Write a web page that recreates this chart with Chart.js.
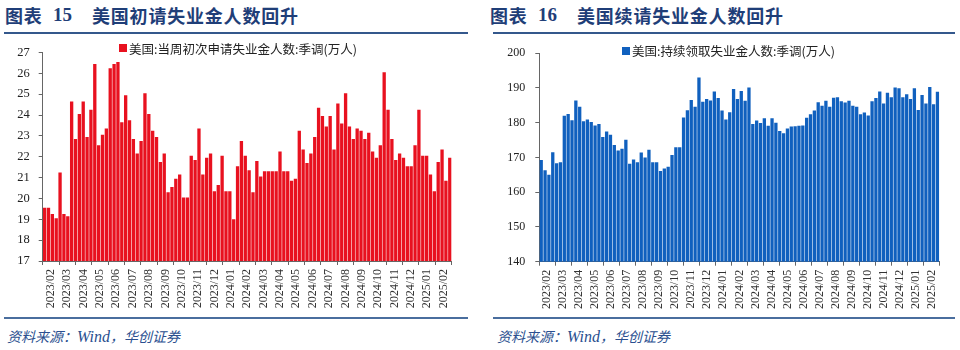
<!DOCTYPE html>
<html><head><meta charset="utf-8">
<script src="https://cdn.jsdelivr.net/npm/chart.js@4.4.1/dist/chart.umd.min.js"></script>
<style>
html,body{margin:0;padding:0;background:#fff;width:960px;height:350px;overflow:hidden;position:relative;}
.t{position:absolute;top:4px;height:22px;line-height:22px;color:#1F3E78;font-weight:700;font-size:18px;white-space:nowrap;font-family:"Noto Sans CJK SC",sans-serif;letter-spacing:0.8px}
.num{font-family:"Liberation Serif",serif;font-size:19px;letter-spacing:0}
.rule{position:absolute;height:2px;background:#34588C;}
.rule2{position:absolute;height:1.5px;background:#4A6E9E;}
.src{position:absolute;top:326px;font-size:14px;line-height:20px;color:#2A4F8F;font-style:italic;font-family:"Noto Sans CJK SC",sans-serif;white-space:nowrap}
.src .w{font-family:"Liberation Serif",serif;font-size:16px}
.lg{position:absolute;height:14px;display:flex;align-items:center;font-size:12.5px;color:#222;white-space:nowrap;font-family:"Noto Sans CJK SC",sans-serif}
.lg i{display:inline-block;width:8px;height:8px;margin-right:2px}
canvas{position:absolute;}
</style></head>
<body>
<div class="t" style="left:5px">图表</div>
<div class="t num" style="left:53px">15</div>
<div class="t" style="left:92px">美国初请失业金人数回升</div>
<div class="rule" style="left:4px;top:32px;width:464px"></div>

<div class="t" style="left:490px">图表</div>
<div class="t num" style="left:538px">16</div>
<div class="t" style="left:577px">美国续请失业金人数回升</div>
<div class="rule" style="left:493px;top:32px;width:462px"></div>

<canvas id="c1" width="470" height="282" style="left:0px;top:36px"></canvas>
<canvas id="c2" width="470" height="282" style="left:480px;top:36px"></canvas>

<div class="lg" style="left:119px;top:41px"><i style="background:#E8111F"></i>美国:当周初次申请失业金人数:季调(万人)</div>
<div class="lg" style="left:622px;top:43.5px"><i style="background:#1060BE"></i>美国:持续领取失业金人数:季调(万人)</div>

<div class="rule2" style="left:4px;top:317px;width:464px"></div>
<div class="rule2" style="left:493px;top:317px;width:462px"></div>
<div class="src" style="left:7px">资料来源：<span class="w">Wind</span>，华创证券</div>
<div class="src" style="left:497px">资料来源：<span class="w">Wind</span>，华创证券</div>

<script>
const xTickLabels = ['2023/02','2023/03','2023/04','2023/05','2023/06','2023/07','2023/08','2023/09','2023/10','2023/11','2023/12',
  '2024/01','2024/02','2024/03','2024/04','2024/05','2024/06','2024/07','2024/08','2024/09','2024/10','2024/11','2024/12',
  '2025/01','2025/02'];

// 美国:当周初次申请失业金人数:季调(万人), weekly
const initialClaims = [
  19.55, 19.55, 19.25, 19.05, 21.25, 19.25, 19.15, 24.65, 22.85, 24.05,
  24.65, 22.95, 24.25, 26.45, 22.55, 23.05, 23.35, 26.25, 26.45, 26.55,
  23.65, 24.95, 23.75, 22.85, 22.15, 22.75, 25.05, 24.05, 23.25, 22.95,
  21.75, 22.15, 20.30, 20.55, 20.95, 21.15, 20.05, 20.05, 22.05, 21.85,
  23.35, 21.15, 21.95, 22.15, 20.35, 20.65, 22.05, 20.35, 20.35, 19.00,
  21.55, 22.75, 22.05, 21.35, 20.30, 21.80, 21.05, 21.30, 21.30, 21.30,
  21.30, 22.25, 21.30, 21.30, 20.85, 20.95, 23.25, 22.35, 21.70, 22.15,
  22.95, 24.35, 23.95, 23.45, 23.95, 22.35, 24.55, 23.60, 25.05, 23.45,
  22.85, 23.35, 23.25, 22.85, 23.15, 22.25, 21.95, 22.55, 26.05, 24.25,
  22.85, 21.85, 22.15, 21.95, 21.55, 21.55, 22.55, 24.25, 22.05, 22.05,
  21.15, 20.35, 21.75, 22.35, 20.85, 21.95
];

// 美国:持续领取失业金人数:季调(万人), weekly
const continuingClaims = [
  169.3, 166.3, 165.0, 171.5, 168.3, 168.6, 182.0, 182.5, 180.7, 186.4,
  184.6, 180.4, 180.9, 180.2, 179.2, 179.6, 175.9, 177.5, 176.5, 173.6,
  172.0, 172.5, 175.1, 168.2, 169.4, 168.6, 171.4, 170.0, 172.2, 168.6,
  168.6, 166.1, 166.8, 167.3, 170.7, 172.9, 172.9, 181.5, 183.6, 186.5,
  184.6, 193.0, 186.0, 186.8, 186.4, 189.0, 187.1, 183.5, 180.9, 183.0,
  189.7, 186.8, 189.1, 186.3, 190.1, 179.6, 180.6, 179.9, 181.3, 179.1,
  181.3, 180.0, 177.6, 177.0, 178.3, 178.9, 179.0, 179.1, 179.2, 181.4,
  182.4, 183.5, 185.9, 184.9, 186.3, 184.6, 187.2, 187.35, 186.15, 185.8,
  186.3, 184.9, 184.6, 182.4, 182.9, 182.1, 186.15, 187.1, 189.0, 185.5,
  188.65, 187.35, 190.1, 189.9, 187.35, 188.2, 186.8, 189.9, 183.65, 188.0,
  185.5, 190.3, 185.3, 188.9
];

const seriesNames = ['美国:当周初次申请失业金人数:季调(万人)', '美国:持续领取失业金人数:季调(万人)'];

function weekCats(n){ const a=[]; for(let i=0;i<n;i++) a.push('W'+(i+1)); return a; }

function build(id, name, values, color, yMin, yMax, yStep, yW, xH, pad, yPad, yFont){
  return new Chart(document.getElementById(id), {
    type: 'bar',
    data: {
      labels: weekCats(values.length),
      datasets: [{label: name, data: values, backgroundColor: color, borderWidth: 0,
        barPercentage: 0.86, categoryPercentage: 1.0, xAxisID: 'x', yAxisID: 'y'}]
    },
    options: {
      responsive: false, animation: false, devicePixelRatio: 1,
      layout: {padding: pad},
      plugins: {legend: {display: false}, tooltip: {enabled: false}},
      scales: {
        x: {display: false, offset: true},
        xt: {
          type: 'linear', position: 'bottom', min: 0, max: xTickLabels.length - 1,
          afterFit(s){ s.height = xH; },
          ticks: {stepSize: 1, autoSkip: false, maxRotation: 90, minRotation: 90, padding: 4,
            color: '#333', font: {family: 'Liberation Serif', size: 12},
            callback: (v) => xTickLabels[v]},
          grid: {display: true, drawOnChartArea: false, drawTicks: true, tickLength: 4, color: '#666'},
          border: {display: true, color: '#666', width: 1}
        },
        y: {
          min: yMin, max: yMax,
          afterFit(s){ s.width = yW; },
          ticks: {stepSize: yStep, padding: yPad, color: '#222', font: {family: 'Liberation Serif', size: yFont}},
          grid: {display: true, drawOnChartArea: false, drawTicks: true, tickLength: 4, color: '#666'},
          border: {display: true, color: '#666', width: 1}
        }
      }
    }
  });
}

build('c1', seriesNames[0], initialClaims, '#E8111F', 17, 27, 1, 42.7, 57, {left: 0, right: 18.3, top: 12.3, bottom: 0}, 9, 12.5);
build('c2', seriesNames[1], continuingClaims, '#1060BE', 140, 200, 10, 59.3, 56.3, {left: 0, right: 9.8, top: 9, bottom: 0}, 10, 12);
</script>
</body></html>
